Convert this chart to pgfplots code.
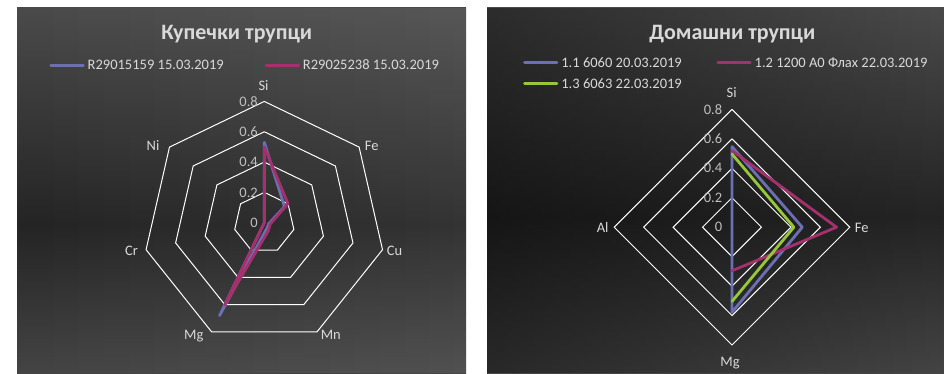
\documentclass[border=0pt]{standalone}
\usepackage{fontspec}
\setmainfont{Carlito}
\usepackage{pgfplots}
\pgfplotsset{compat=1.18}
\usepgfplotslibrary{polar}
\usetikzlibrary{fadings}

\definecolor{bgtop}{HTML}{4A4A4A}
\definecolor{bgmid}{HTML}{242424}
\definecolor{bgbot}{HTML}{444444}
\definecolor{txt}{HTML}{D9D9D9}
\definecolor{ticktxt}{HTML}{BFBFBF}
\definecolor{serA}{HTML}{6C70B2}
\definecolor{serB}{HTML}{A5306E}
\definecolor{serC}{HTML}{97C83A}

% panel backgrounds: light at top and bottom, dark band a little below the middle
\pgfdeclareverticalshading{panelL}{100bp}{color(0bp)=(bgbot); color(25bp)=(bgbot); color(45.3bp)=(bgmid); color(75bp)=(bgtop); color(100bp)=(bgtop)}
\pgfdeclareverticalshading{panelR}{100bp}{color(0bp)=(bgbot); color(25bp)=(bgbot); color(46.4bp)=(bgmid); color(75bp)=(bgtop); color(100bp)=(bgtop)}
\tikzfading[name=darkleft, left color=transparent!0, right color=transparent!100]
\tikzfading[name=lightright, left color=transparent!100, right color=transparent!0]

\newcommand{\lblfont}{\fontsize{14.5}{17}\selectfont}
\newcommand{\ttlfont}{\fontsize{22}{26}\selectfont\bfseries}

\pgfplotsset{
  radar/.style={
    hide axis, clip=false, data cs=polar, anchor=center,
    legend columns=2,
    legend cell align=left,
    legend image code/.code={\draw[##1] (0pt,0pt) -- (32.4pt,0pt);},
    legend style={draw=none, fill=none, inner sep=0pt, anchor=north west,
      font=\lblfont, text=txt, row sep=4pt,
      nodes={inner xsep=3pt, inner ysep=2pt, text height=11pt, text depth=2pt}},
  },
  ring/.style={white, line width=1pt, forget plot, line join=miter},
  series/.style={line width=2.8pt, line join=round, line cap=round},
}

\begin{document}
\begin{tikzpicture}[x=1pt, y=1pt]
\fill[white] (0,0) rectangle (944,373);
\path[use as bounding box] (0,0) rectangle (944,373);

% backgrounds
\shade[shading=panelL] (17,0) rectangle (466,365);
\fill[white, opacity=0.07, path fading=lightright] (17,0) rectangle (466,365);
\shade[shading=panelR] (487,0) rectangle (944,365);
\fill[black, opacity=0.4, path fading=darkleft] (487,0) rectangle (944,365);

% ---------------- Купечки трупци ----------------
\begin{axis}[radar,
  at={(264.3pt,150.3pt)},
  x=151.6pt, y=151.6pt,
  xmin=-0.82, xmax=0.82, ymin=-0.82, ymax=0.82,
  legend style={at={(-0.3648,1.1686)},
    /tikz/every even column/.append style={column sep=38pt}},
]
\addplot[ring] coordinates {(90,0.2) (38.571,0.2) (-12.857,0.2) (-64.286,0.2) (-115.714,0.2) (-167.143,0.2) (141.429,0.2) (90,0.2)};
\addplot[ring] coordinates {(90,0.4) (38.571,0.4) (-12.857,0.4) (-64.286,0.4) (-115.714,0.4) (-167.143,0.4) (141.429,0.4) (90,0.4)};
\addplot[ring] coordinates {(90,0.6) (38.571,0.6) (-12.857,0.6) (-64.286,0.6) (-115.714,0.6) (-167.143,0.6) (141.429,0.6) (90,0.6)};
\addplot[ring] coordinates {(90,0.8) (38.571,0.8) (-12.857,0.8) (-64.286,0.8) (-115.714,0.8) (-167.143,0.8) (141.429,0.8) (90,0.8)};
% Si, Fe, Cu, Mn, Mg, Cr, Ni
\addplot[series, serA] coordinates {(90,0.53) (38.571,0.17) (-12.857,0.03) (-64.286,0.04) (-115.714,0.68) (-167.143,0) (141.429,0) (90,0.53)};
\addlegendentry{R29015159 15.03.2019}
\addplot[series, serB] coordinates {(90,0.50) (38.571,0.20) (-12.857,0.04) (-64.286,0.06) (-115.714,0.60) (-167.143,0) (141.429,0) (90,0.50)};
\addlegendentry{R29025238 15.03.2019}
\end{axis}

\node[anchor=base, text=txt, font=\ttlfont] at (236.7,333.7) {Купечки трупци};
\begin{scope}[every node/.style={text=txt, font=\lblfont, anchor=base, inner sep=0pt}]
\node at (263.5,283) {Si};
\node at (371.7,223) {Fe};
\node at (394.5,118) {Cu};
\node at (330.8,33.5) {Mn};
\node at (193.8,33.5) {Mg};
\node at (131.5,118) {Cr};
\node at (153,223) {Ni};
\end{scope}
\begin{scope}[every node/.style={text=ticktxt, font=\lblfont, anchor=east, inner sep=0pt}]
\node at (258,150.3) {0};
\node at (258,180.6) {0.2};
\node at (258,211.0) {0.4};
\node at (258,241.3) {0.6};
\node at (258,271.6) {0.8};
\end{scope}

% ---------------- Домашни трупци ----------------
\begin{axis}[radar,
  at={(732pt,145.8pt)},
  x=147.25pt, y=147.25pt,
  xmin=-0.82, xmax=0.82, ymin=-0.82, ymax=0.82,
  legend style={at={(-0.3656,1.2178)},
    /tikz/every even column/.append style={column sep=31.7pt}},
]
\addplot[ring] coordinates {(90,0.2) (0,0.2) (-90,0.2) (180,0.2) (90,0.2)};
\addplot[ring] coordinates {(90,0.4) (0,0.4) (-90,0.4) (180,0.4) (90,0.4)};
\addplot[ring] coordinates {(90,0.6) (0,0.6) (-90,0.6) (180,0.6) (90,0.6)};
\addplot[ring] coordinates {(90,0.8) (0,0.8) (-90,0.8) (180,0.8) (90,0.8)};
% Si, Fe, Mg, Al (Al is 0 for 1.1 and left blank for 1.2 and 1.3)
\addplot[series, serA] coordinates {(90,0.547) (0,0.477) (-90,0.578) (180,0) (90,0.547)};
\addlegendentry{1.1 6060 20.03.2019}
\addplot[series, serB] coordinates {(90,0.52) (0,0.71) (-90,0.296)};
\addlegendentry{1.2 1200 A0 Флах 22.03.2019}
\addplot[series, serC] coordinates {(90,0.497) (0,0.42) (-90,0.504)};
\addlegendentry{1.3 6063 22.03.2019}
\end{axis}

\node[anchor=base, text=txt, font=\ttlfont] at (732.3,333) {Домашни трупци};
\begin{scope}[every node/.style={text=txt, font=\lblfont, anchor=base, inner sep=0pt}]
\node at (731.7,275.8) {Si};
\node at (861.7,140.7) {Fe};
\node at (730,6.3) {Mg};
\node at (602.7,140.7) {Al};
\end{scope}
\begin{scope}[every node/.style={text=ticktxt, font=\lblfont, anchor=east, inner sep=0pt}]
\node at (722.3,145.8) {0};
\node at (722.3,175.3) {0.2};
\node at (722.3,204.7) {0.4};
\node at (722.3,234.2) {0.6};
\node at (722.3,263.6) {0.8};
\end{scope}
\end{tikzpicture}
\end{document}
